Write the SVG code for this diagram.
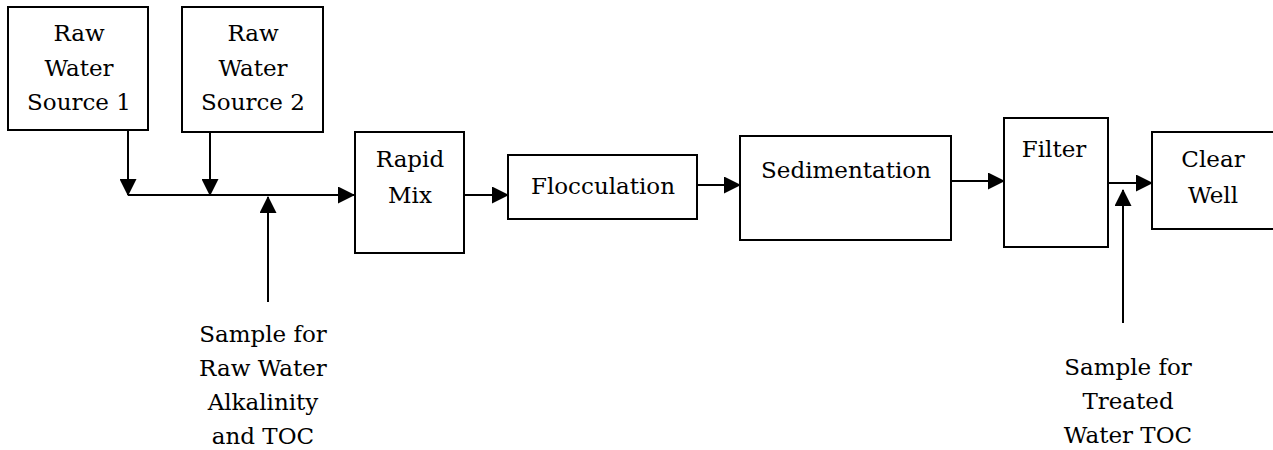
<svg xmlns="http://www.w3.org/2000/svg" width="1273" height="450" viewBox="0 0 1273 450">
<style>
.box{fill:#fff;stroke:#000;stroke-width:2}
.t{font-family:'DejaVu Serif',serif;font-size:23px;letter-spacing:0px;fill:#000;text-anchor:middle}
.ln{fill:none;stroke:#000;stroke-width:2}
</style>
<defs>
<marker id="ah" markerUnits="userSpaceOnUse" markerWidth="17" markerHeight="17" viewBox="0 0 17 17" refX="16" refY="8.5" orient="auto">
<path d="M0,0 L17,8.5 L0,17 z" fill="#000"/>
</marker>
</defs>
<rect width="1273" height="450" fill="#fff"/>
<g id="raw1">
<rect class="box" x="8" y="7" width="140" height="123"/>
<text class="t" x="79" y="41">Raw</text>
<text class="t" x="79" y="76">Water</text>
<text class="t" x="79" y="110">Source 1</text>
</g>
<g id="raw2">
<rect class="box" x="182" y="7" width="141" height="125"/>
<text class="t" x="253" y="41">Raw</text>
<text class="t" x="253" y="76">Water</text>
<text class="t" x="253" y="110">Source 2</text>
</g>
<g id="rapidmix">
<rect class="box" x="355" y="132" width="109" height="121"/>
<text class="t" x="410" y="167">Rapid</text>
<text class="t" x="410" y="203">Mix</text>
</g>
<g id="flocculation">
<rect class="box" x="508" y="155" width="189" height="64"/>
<text class="t" x="603" y="194">Flocculation</text>
</g>
<g id="sedimentation">
<rect class="box" x="740" y="136" width="211" height="104"/>
<text class="t" x="846" y="178">Sedimentation</text>
</g>
<g id="filter">
<rect class="box" x="1004" y="118" width="104" height="129"/>
<text class="t" x="1054" y="157">Filter</text>
</g>
<g id="clearwell">
<rect class="box" x="1152" y="132" width="122" height="97"/>
<text class="t" x="1213" y="167">Clear</text>
<text class="t" x="1213" y="203">Well</text>
</g>
<g id="sample-raw">
<text class="t" x="263" y="342">Sample for</text>
<text class="t" x="263" y="376">Raw Water</text>
<text class="t" x="263" y="410">Alkalinity</text>
<text class="t" x="263" y="444">and TOC</text>
</g>
<g id="sample-treated">
<text class="t" x="1128" y="375">Sample for</text>
<text class="t" x="1128" y="409">Treated</text>
<text class="t" x="1128" y="443">Water TOC</text>
</g>
<g id="connectors">
<path class="ln" d="M128,130 V195" marker-end="url(#ah)"/>
<path class="ln" d="M210,132 V195" marker-end="url(#ah)"/>
<path class="ln" d="M128,195 H354" marker-end="url(#ah)"/>
<path class="ln" d="M268,302 V197" marker-end="url(#ah)"/>
<path class="ln" d="M464,195 H508" marker-end="url(#ah)"/>
<path class="ln" d="M697,185 H740" marker-end="url(#ah)"/>
<path class="ln" d="M951,181 H1004" marker-end="url(#ah)"/>
<path class="ln" d="M1108,183 H1152" marker-end="url(#ah)"/>
<path class="ln" d="M1123,323 V190" marker-end="url(#ah)"/>
</g>
</svg>
